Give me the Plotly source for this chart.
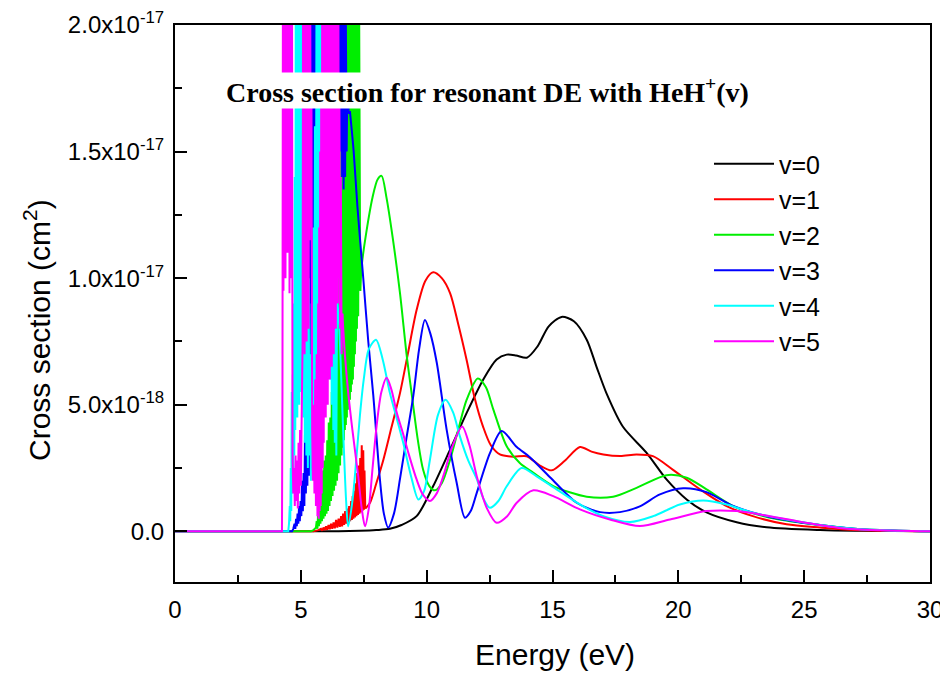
import numpy as np
import plotly.graph_objects as go

# (Energy eV, cross section in units of 1e-18 cm^2).
# *_NOISE: the dense resonance structure at low energy; *_SMOOTH: the smooth part.
V0_SMOOTH = [(0, 0), (6.5, 0), (7.35, 0.02), (8.0, 0.05), (8.54, 0.1), (9.0, 0.25), (9.60, 0.60),
             (10.26, 1.79), (10.93, 3.23), (11.59, 4.68), (12.25, 6.0), (12.78, 6.79), (13.18, 6.98),
             (13.55, 6.95), (13.98, 6.86), (14.40, 7.3), (14.85, 8.1), (15.36, 8.47), (15.85, 8.3),
             (16.36, 7.57), (16.75, 6.5), (17.15, 5.44), (17.80, 4.13), (18.74, 3.10), (19.53, 2.05),
             (20.33, 1.26), (21.12, 0.75), (22.32, 0.36), (23.51, 0.16), (25.63, 0.05), (27.0, 0.02),
             (30.0, 0)]

V1_NOISE = [(0, 0), (5.5, 0), (5.70, 0.05), (5.80, 0.1), (5.85, 0.03), (5.90, 0.15), (5.95, 0.05),
            (6.00, 0.2), (6.05, 0.06), (6.10, 0.25), (6.15, 0.08), (6.20, 0.3), (6.25, 0.1),
            (6.30, 0.35), (6.35, 0.12), (6.40, 0.45), (6.45, 0.15), (6.50, 0.5), (6.55, 0.18),
            (6.60, 0.6), (6.64, 0.2), (6.68, 0.7), (6.72, 0.25), (6.76, 0.8), (6.80, 0.3),
            (6.84, 0.9), (6.88, 0.35), (6.92, 1.0), (6.96, 0.4), (7.00, 1.2), (7.03, 0.45),
            (7.06, 1.4), (7.09, 0.5), (7.12, 1.6), (7.15, 0.55), (7.18, 1.9), (7.21, 0.6),
            (7.24, 2.3), (7.27, 0.65), (7.30, 2.6), (7.33, 0.7), (7.36, 2.9), (7.39, 0.75),
            (7.42, 3.4), (7.45, 0.8), (7.48, 3.2), (7.51, 0.85), (7.53, 2.4), (7.56, 0.9)]
V1_SMOOTH = [(7.56, 0.9), (7.75, 1.13), (8.00, 1.9), (8.28, 2.83), (8.60, 4.1), (8.94, 5.46),
             (9.25, 7.0), (9.60, 8.74), (9.95, 9.9), (10.26, 10.23), (10.60, 10.0), (10.93, 9.41),
             (11.25, 8.2), (11.59, 6.76), (11.90, 5.3), (12.25, 4.11), (12.55, 3.4), (12.91, 3.04),
             (13.45, 2.95), (13.97, 2.97), (14.50, 2.6), (14.97, 2.41), (15.50, 2.8), (16.09, 3.33),
             (16.55, 3.15), (17.02, 3.04), (17.70, 2.98), (18.34, 3.04), (18.99, 2.97), (19.79, 2.43),
             (20.86, 1.66), (21.92, 1.00), (22.96, 0.60), (24.30, 0.28), (25.63, 0.15), (27.0, 0.05),
             (30.0, 0)]

V2_NOISE = [(0, 0), (5.40, 0), (5.50, 0.05), (5.60, 0.15), (5.63, 0.4), (5.66, 0.1), (5.69, 0.8),
            (5.72, 0.2), (5.75, 1.2), (5.78, 0.3), (5.81, 1.8), (5.84, 0.4), (5.87, 2.4), (5.90, 0.5),
            (5.93, 2.8), (5.96, 0.6), (5.99, 3.0), (6.02, 0.7), (6.05, 3.6), (6.08, 0.8), (6.11, 4.3),
            (6.14, 1.0), (6.17, 4.5), (6.20, 1.2), (6.23, 5.5), (6.26, 1.4), (6.29, 6.2), (6.32, 1.6),
            (6.35, 6.8), (6.38, 1.8), (6.41, 7.5), (6.44, 2.0), (6.47, 9.0), (6.50, 2.3), (6.53, 12.0),
            (6.56, 2.6), (6.59, 18.0), (6.62, 3.0), (6.65, 24), (6.67, 3.3), (6.69, 24), (6.71, 3.6),
            (6.73, 24), (6.75, 4.0), (6.77, 24), (6.79, 4.2), (6.81, 24), (6.83, 4.5), (6.85, 24),
            (6.87, 4.8), (6.89, 24), (6.91, 5.0), (6.93, 24), (6.95, 5.2), (6.97, 24), (6.99, 5.5),
            (7.01, 24), (7.03, 5.8), (7.05, 24), (7.07, 6.0), (7.09, 24), (7.11, 6.5), (7.13, 24),
            (7.15, 7.0), (7.17, 24), (7.19, 7.5), (7.21, 24), (7.23, 8.0), (7.25, 22), (7.28, 8.5),
            (7.32, 20), (7.36, 9.5)]
V2_SMOOTH = [(7.36, 9.5), (7.42, 10.5), (7.60, 11.8), (7.85, 13.2), (8.05, 13.9), (8.21, 14.04),
             (8.40, 13.2), (8.65, 11.6), (8.94, 9.41), (9.20, 7.0), (9.40, 5.46), (9.65, 3.6),
             (9.86, 2.43), (10.10, 1.8), (10.33, 1.62), (10.60, 1.9), (10.93, 2.83), (11.25, 4.0),
             (11.59, 5.20), (12.03, 6.04), (12.35, 5.7), (12.65, 4.81), (13.18, 3.36), (13.70, 2.7),
             (14.24, 2.31), (15.03, 1.79), (16.36, 1.37), (17.41, 1.37), (18.34, 1.72), (19.53, 2.22),
             (20.33, 2.12), (21.12, 1.66), (22.18, 1.00), (23.64, 0.54), (25.63, 0.25), (27.0, 0.1),
             (28.5, 0.03), (30.0, 0)]

V3_NOISE = [(0, 0), (4.65, 0), (4.70, 0.1), (4.75, 0.3), (4.78, 0.1), (4.81, 0.5), (4.84, 0.2),
            (4.87, 0.7), (4.90, 0.3), (4.93, 1.0), (4.96, 0.4), (4.99, 1.2), (5.02, 0.6), (5.05, 2.0),
            (5.08, 0.8), (5.11, 2.3), (5.14, 1.0), (5.17, 4.5), (5.20, 1.5), (5.23, 3.5), (5.26, 1.8),
            (5.30, 8.0), (5.33, 2.2), (5.36, 14.0), (5.39, 2.4), (5.42, 24), (5.44, 2.5), (5.46, 24),
            (5.48, 3.0), (5.50, 24), (5.52, 3.5), (5.54, 24), (5.56, 4.0), (5.58, 24), (5.60, 3.8),
            (5.62, 24), (5.64, 5.0), (5.66, 24), (5.68, 4.5), (5.70, 24), (5.72, 6.0), (5.74, 24),
            (5.76, 5.5), (5.78, 22), (5.80, 7.0), (5.83, 16), (5.86, 6.0), (5.89, 14), (5.92, 8.0),
            (5.95, 15), (5.98, 7.0), (6.01, 13), (6.04, 9.0), (6.07, 16), (6.10, 10.0), (6.13, 14),
            (6.16, 11.0), (6.19, 18), (6.22, 12.0), (6.25, 16), (6.28, 13.0), (6.31, 20), (6.34, 14.0),
            (6.37, 24), (6.40, 14.0), (6.43, 24), (6.46, 15.0), (6.49, 24), (6.52, 16.0), (6.55, 24),
            (6.58, 15.0), (6.61, 24), (6.64, 14.0), (6.67, 24), (6.70, 13.5), (6.73, 22), (6.76, 14.0),
            (6.79, 20), (6.82, 15.0), (6.85, 18), (6.90, 16.5), (6.95, 16.6)]
V3_SMOOTH = [(6.95, 16.6), (7.10, 15.0), (7.25, 12.8), (7.48, 10.0), (7.68, 7.5), (7.88, 5.36),
             (8.14, 2.07), (8.30, 0.7), (8.47, 0.15), (8.70, 0.7), (8.94, 2.07), (9.20, 3.7),
             (9.47, 5.36), (9.70, 7.2), (9.93, 8.35), (10.15, 7.8), (10.40, 6.67), (10.79, 4.04),
             (11.19, 1.93), (11.52, 0.54), (11.75, 0.8), (11.99, 1.52), (12.51, 3.08), (12.98, 3.96),
             (13.58, 3.33), (14.10, 2.93), (14.90, 2.14), (15.96, 1.13), (16.89, 0.76), (17.68, 0.76),
             (18.47, 0.99), (19.27, 1.46), (20.19, 1.70), (21.12, 1.55), (22.18, 1.00), (23.51, 0.60),
             (25.63, 0.25), (27.0, 0.1), (28.5, 0.03), (30.0, 0)]

V4_NOISE = [(0, 0), (4.50, 0), (4.53, 0.3), (4.56, 1.0), (4.58, 0.4), (4.60, 2.5), (4.62, 0.8),
            (4.64, 5.5), (4.66, 1.5), (4.68, 6.2), (4.70, 2.0), (4.72, 9.0), (4.74, 3.0), (4.76, 14.0),
            (4.78, 4.0), (4.80, 24), (4.82, 5.0), (4.84, 24), (4.86, 4.5), (4.88, 24), (4.90, 6.0),
            (4.92, 24), (4.94, 5.0), (4.96, 24), (4.98, 7.0), (5.00, 24), (5.02, 5.5), (5.04, 24),
            (5.06, 6.5), (5.08, 20), (5.10, 4.5), (5.13, 12), (5.16, 3.5), (5.19, 9), (5.22, 3.0),
            (5.25, 8), (5.28, 2.5), (5.31, 10), (5.34, 3.0), (5.37, 7), (5.40, 2.0), (5.43, 9),
            (5.46, 3.0), (5.50, 12), (5.53, 4.0), (5.56, 16), (5.59, 5.0), (5.62, 20), (5.65, 6.0),
            (5.68, 24), (5.70, 7.0), (5.72, 24), (5.74, 6.0), (5.76, 24), (5.78, 8.0), (5.80, 24),
            (5.82, 7.0), (5.84, 24), (5.86, 9.0), (5.88, 24), (5.90, 8.0), (5.92, 24), (5.94, 10.0),
            (5.96, 22), (5.99, 9.0), (6.02, 18), (6.05, 8.0), (6.08, 16), (6.11, 7.0), (6.14, 14),
            (6.17, 6.0), (6.20, 12), (6.23, 5.0), (6.26, 12), (6.29, 4.0), (6.32, 11), (6.35, 3.5),
            (6.38, 10), (6.41, 3.0), (6.44, 9.2)]
V4_SMOOTH = [(6.44, 9.2), (6.52, 8.2), (6.60, 6.2), (6.70, 3.5), (6.80, 1.2), (6.88, 0.2), (7.05, 1.2),
             (7.20, 2.8), (7.35, 4.6), (7.50, 6.0), (7.70, 7.2), (7.99, 7.57), (8.25, 6.8), (8.54, 5.46),
             (8.80, 4.5), (9.07, 3.49), (9.40, 2.1), (9.67, 1.26), (9.90, 1.6), (10.13, 2.83),
             (10.45, 4.6), (10.75, 5.20), (11.05, 4.7), (11.32, 3.75), (11.65, 2.8), (11.99, 2.07),
             (12.25, 1.3), (12.51, 0.93), (12.85, 1.2), (13.18, 1.78), (13.77, 2.50), (14.37, 2.17),
             (15.16, 1.66), (16.22, 0.99), (17.02, 0.60), (18.08, 0.37), (19.00, 0.60), (20.06, 1.06),
             (20.99, 1.22), (21.92, 1.06), (22.98, 0.73), (24.30, 0.47), (25.63, 0.25), (27.0, 0.1),
             (28.5, 0.03), (30.0, 0)]

V5_NOISE = [(0, 0), (4.25, 0), (4.27, 5.5), (4.29, 24), (4.31, 9.5), (4.33, 24), (4.35, 12),
            (4.37, 24), (4.39, 10), (4.41, 24), (4.43, 14), (4.45, 24), (4.47, 11), (4.49, 24),
            (4.51, 15), (4.53, 24), (4.55, 9.4), (4.57, 24), (4.59, 13), (4.61, 24), (4.63, 10),
            (4.65, 22), (4.67, 3.0), (4.70, 1.5), (4.73, 2.5), (4.76, 1.0), (4.79, 3.0), (4.82, 1.2),
            (4.85, 2.8), (4.88, 0.9), (4.91, 3.5), (4.94, 1.5), (4.97, 4.0), (5.00, 1.8), (5.04, 5.0),
            (5.07, 7.5), (5.09, 24), (5.11, 8), (5.13, 24), (5.15, 7), (5.17, 24), (5.19, 9),
            (5.21, 24), (5.23, 7.5), (5.25, 24), (5.27, 10), (5.29, 24), (5.31, 8), (5.33, 24),
            (5.35, 11.5), (5.37, 24), (5.39, 12), (5.42, 18), (5.45, 4), (5.48, 2), (5.51, 5),
            (5.54, 1.5), (5.57, 6), (5.60, 1.0), (5.63, 7), (5.66, 0.6), (5.69, 9), (5.71, 0.5),
            (5.73, 12), (5.75, 0.8), (5.77, 15), (5.79, 1.0), (5.81, 18), (5.83, 1.5), (5.85, 24),
            (5.87, 2.5), (5.89, 24), (5.91, 3.5), (5.93, 24), (5.95, 5), (5.97, 24), (5.99, 4.5),
            (6.01, 24), (6.03, 6), (6.05, 24), (6.07, 5), (6.09, 24), (6.11, 7), (6.13, 24),
            (6.15, 6), (6.17, 24), (6.19, 8), (6.21, 24), (6.23, 6.5), (6.25, 24), (6.27, 9),
            (6.29, 24), (6.31, 7), (6.33, 24), (6.35, 10), (6.37, 24), (6.39, 8), (6.41, 24),
            (6.43, 11), (6.45, 24), (6.47, 9), (6.49, 22), (6.51, 10), (6.53, 18), (6.56, 8),
            (6.59, 14), (6.62, 7), (6.65, 8.6)]
V5_SMOOTH = [(6.65, 8.6), (6.75, 7.0), (6.88, 5.5), (7.05, 4.0), (7.28, 2.18), (7.42, 0.9), (7.55, 0.2),
             (7.70, 0.9), (7.85, 2.5), (8.01, 4.16), (8.20, 5.5), (8.41, 6.07), (8.60, 5.6), (8.81, 4.69),
             (9.05, 3.9), (9.27, 3.11), (9.60, 2.05), (9.85, 1.45), (10.13, 1.20), (10.40, 1.5),
             (10.66, 2.18), (11.0, 3.3), (11.41, 4.14), (11.70, 3.4), (11.99, 2.18), (12.40, 0.9),
             (12.78, 0.34), (13.2, 0.6), (13.58, 1.13), (14.24, 1.62), (15.03, 1.39), (16.09, 0.87),
             (17.28, 0.47), (18.47, 0.21), (19.67, 0.47), (21.12, 0.80), (22.32, 0.80), (23.64, 0.60),
             (25.0, 0.35), (26.5, 0.12), (28.0, 0.04), (30.0, 0)]

SERIES_NAMES = ["v=0", "v=1", "v=2", "v=3", "v=4", "v=5"]
COLORS = ["#000000", "#ff0000", "#00ee00", "#0000ff", "#00ffff", "#ff00ff"]
X_TICKS = [0, 5, 10, 15, 20, 25, 30]
Y_TICKVALS = [0, 5e-18, 1e-17, 1.5e-17, 2e-17]
Y_TICKTEXT = ["0.0", "5.0x10<sup>-18</sup>", "1.0x10<sup>-17</sup>",
              "1.5x10<sup>-17</sup>", "2.0x10<sup>-17</sup>"]

NOISE = [[], V1_NOISE, V2_NOISE, V3_NOISE, V4_NOISE, V5_NOISE]
SMOOTH = [V0_SMOOTH, V1_SMOOTH, V2_SMOOTH, V3_SMOOTH, V4_SMOOTH, V5_SMOOTH]

SANS = "Liberation Sans, Arial, sans-serif"
SERIF = "Liberation Serif, Times New Roman, serif"
UNIT = 1e-18

fig = go.Figure()
for noise, smooth, name, col in zip(NOISE, SMOOTH, SERIES_NAMES, COLORS):
    if noise:
        fig.add_trace(go.Scatter(x=[p[0] for p in noise], y=np.array([p[1] for p in noise]) * UNIT,
                                 mode="lines", name=name, legendgroup=name, showlegend=False,
                                 line=dict(color=col, width=2)))
    fig.add_trace(go.Scatter(x=[p[0] for p in smooth], y=np.array([p[1] for p in smooth]) * UNIT,
                             mode="lines", name=name, legendgroup=name,
                             line=dict(color=col, width=2, shape="spline", smoothing=0.8)))

# The page adds an 8px body margin, so the figure is laid out 8px smaller.
W, H = 940, 665
L, R, T, B = 167, 18, 17, 91
pw, ph = W - L - R, H - T - B

fig.update_layout(
    width=W, height=H,
    margin=dict(l=L, r=R, t=T, b=B, autoexpand=False),
    paper_bgcolor="white", plot_bgcolor="white",
    font=dict(family=SANS, size=24, color="black"),
    showlegend=True,
    legend=dict(x=(701 - L) / pw, y=(T + ph - 133) / ph, xanchor="left", yanchor="top",
                bgcolor="rgba(0,0,0,0)", font=dict(size=25, family=SANS),
                tracegroupgap=0, itemwidth=60),
)
fig.update_xaxes(
    range=[0, 30], tickvals=X_TICKS, ticks="inside", ticklen=12, tickwidth=2, automargin=False,
    tickcolor="black", showline=True, linecolor="black", linewidth=2, mirror=True,
    showgrid=False, zeroline=False, tickfont=dict(size=24, family=SANS), ticklabelstandoff=5,
    minor=dict(tick0=0, dtick=2.5, ticks="inside", ticklen=7, tickwidth=2, tickcolor="black"),
)
fig.update_yaxes(
    range=[-2e-18, 2e-17], tickmode="array", tickvals=Y_TICKVALS, ticktext=Y_TICKTEXT,
    ticks="inside", ticklen=12, tickwidth=2, tickcolor="black", automargin=False,
    showline=True, linecolor="black", linewidth=2, mirror=True,
    showgrid=False, zeroline=False, tickfont=dict(size=24, family=SANS), ticklabelstandoff=4,
    minor=dict(tick0=0, dtick=2.5e-18, ticks="inside", ticklen=7, tickwidth=2, tickcolor="black"),
)

fig.add_annotation(text="Energy (eV)", xref="paper", yref="paper",
                   x=(547 - L) / pw, y=(T + ph - 646) / ph, showarrow=False,
                   font=dict(size=30, family=SANS), xanchor="center", yanchor="middle")
fig.add_annotation(text="Cross section (cm<sup>2</sup>)", xref="paper", yref="paper",
                   x=(29 - L) / pw, y=(T + ph - 322) / ph, showarrow=False, textangle=-90,
                   font=dict(size=30, family=SANS), xanchor="center", yanchor="middle")
fig.add_annotation(text="<b>Cross section for resonant DE with HeH<sup>+</sup>(v)</b>",
                   xref="paper", yref="paper",
                   x=(479 - L) / pw, y=(T + ph - 82) / ph, showarrow=False,
                   font=dict(size=28, family=SERIF, color="black"),
                   bgcolor="white", borderpad=0, xanchor="center", yanchor="middle")

fig.write_html("out.html")
